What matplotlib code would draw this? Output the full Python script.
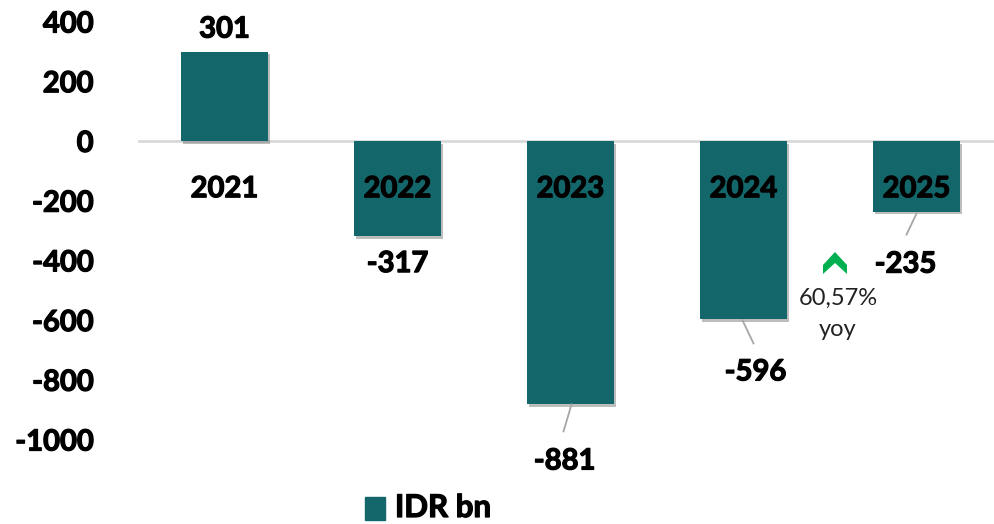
import matplotlib.pyplot as plt
import matplotlib.patheffects as pe
from matplotlib.patches import Polygon

years = ["2021", "2022", "2023", "2024", "2025"]
values = [301, -317, -881, -596, -235]
yticks = [400, 200, 0, -200, -400, -600, -800, -1000]
yoy_text = "60,57%\nyoy"
legend_label = "IDR bn"

BAR = "#13676B"
FONT = "Lato"
WEIGHT = "bold"
THICK = [pe.withStroke(linewidth=0.9, foreground="black")]

W, H = 995, 524
fig = plt.figure(figsize=(W / 100, H / 100), dpi=100)
ax_left, ax_right, ax_top, ax_bot = 138, 995, 22, 440
ax = fig.add_axes([ax_left / W, (H - ax_bot) / H, (ax_right - ax_left) / W, (ax_bot - ax_top) / H])

px_per_unit = 173.0
py_per_unit = (ax_bot - ax_top) / 1400.0
ax.set_xlim(-0.5, -0.5 + (ax_right - ax_left) / px_per_unit)
ax.set_ylim(-1000, 400)

def px2data(px, py):
    return (px - ax_left) / px_per_unit - 0.5, 400 - (py - ax_top) / py_per_unit

x = list(range(len(years)))
bars = ax.bar(x, values, width=0.505, color=BAR, zorder=3)
for b in bars:
    b.set_path_effects([pe.SimplePatchShadow(offset=(1.5, -2), alpha=0.35, shadow_rgbFace="#444444"), pe.Normal()])

ax.axhline(0, color="#D9D9D9", lw=2, zorder=2)

for s in ax.spines.values():
    s.set_visible(False)
ax.set_xticks([])
ax.set_yticks(yticks)
ax.set_yticklabels([str(v) for v in yticks], fontsize=21, fontweight=WEIGHT, fontfamily=FONT)
for t in ax.get_yticklabels():
    t.set_path_effects(THICK)
ax.tick_params(axis="y", length=0, pad=32)

cat_y = -160
for xi, yr in zip(x, years):
    ax.text(xi, cat_y, yr, ha="center", va="center", fontsize=21, fontweight=WEIGHT,
            fontfamily=FONT, color="black", zorder=5, path_effects=THICK)

pt = 72 / 100
label_offsets = [(0, 22), (0, -28), (-6, -57), (12, -53), (-11, -53)]
for xi, v, (dx, dy) in zip(x, values, label_offsets):
    ax.annotate(str(v), (xi, v), xytext=(dx * pt, dy * pt), textcoords="offset points",
                ha="center", va="center", fontsize=21, fontweight=WEIGHT, fontfamily=FONT,
                color="black", zorder=5, annotation_clip=False, path_effects=THICK)

leaders = {2: ((1, 0), (-7, -27)), 3: ((-1, -1), (10, -24)), 4: ((0, -2), (-10, -23))}
for i, ((sx, sy), (ex, ey)) in leaders.items():
    ax.plot([i + sx / px_per_unit, i + ex / px_per_unit],
            [values[i] + sy / py_per_unit, values[i] + ey / py_per_unit],
            color="#A6A6A6", lw=1.3, zorder=4, clip_on=False)

chev_px = [(823, 265), (835, 252), (847, 265), (847, 274), (835, 263), (823, 274)]
ax.add_patch(Polygon([px2data(a, b) for a, b in chev_px], closed=True, facecolor="#00B050",
                     edgecolor="none", zorder=5, clip_on=False))
tx, ty = px2data(838, 314)
ax.text(tx, ty, yoy_text, ha="center", va="center", fontsize=17, fontfamily=FONT,
        color="#222222", linespacing=1.55, zorder=5)

fig.patches.append(plt.Rectangle((365 / W, (H - 520) / H), 20 / W, 23 / H, color=BAR,
                                 transform=fig.transFigure, figure=fig))
fig.text(395 / W, (H - 508) / H, legend_label, ha="left", va="center", fontsize=22.5,
         fontweight=WEIGHT, fontfamily=FONT, color="black", path_effects=THICK)

fig.savefig("out.png", dpi=100)
